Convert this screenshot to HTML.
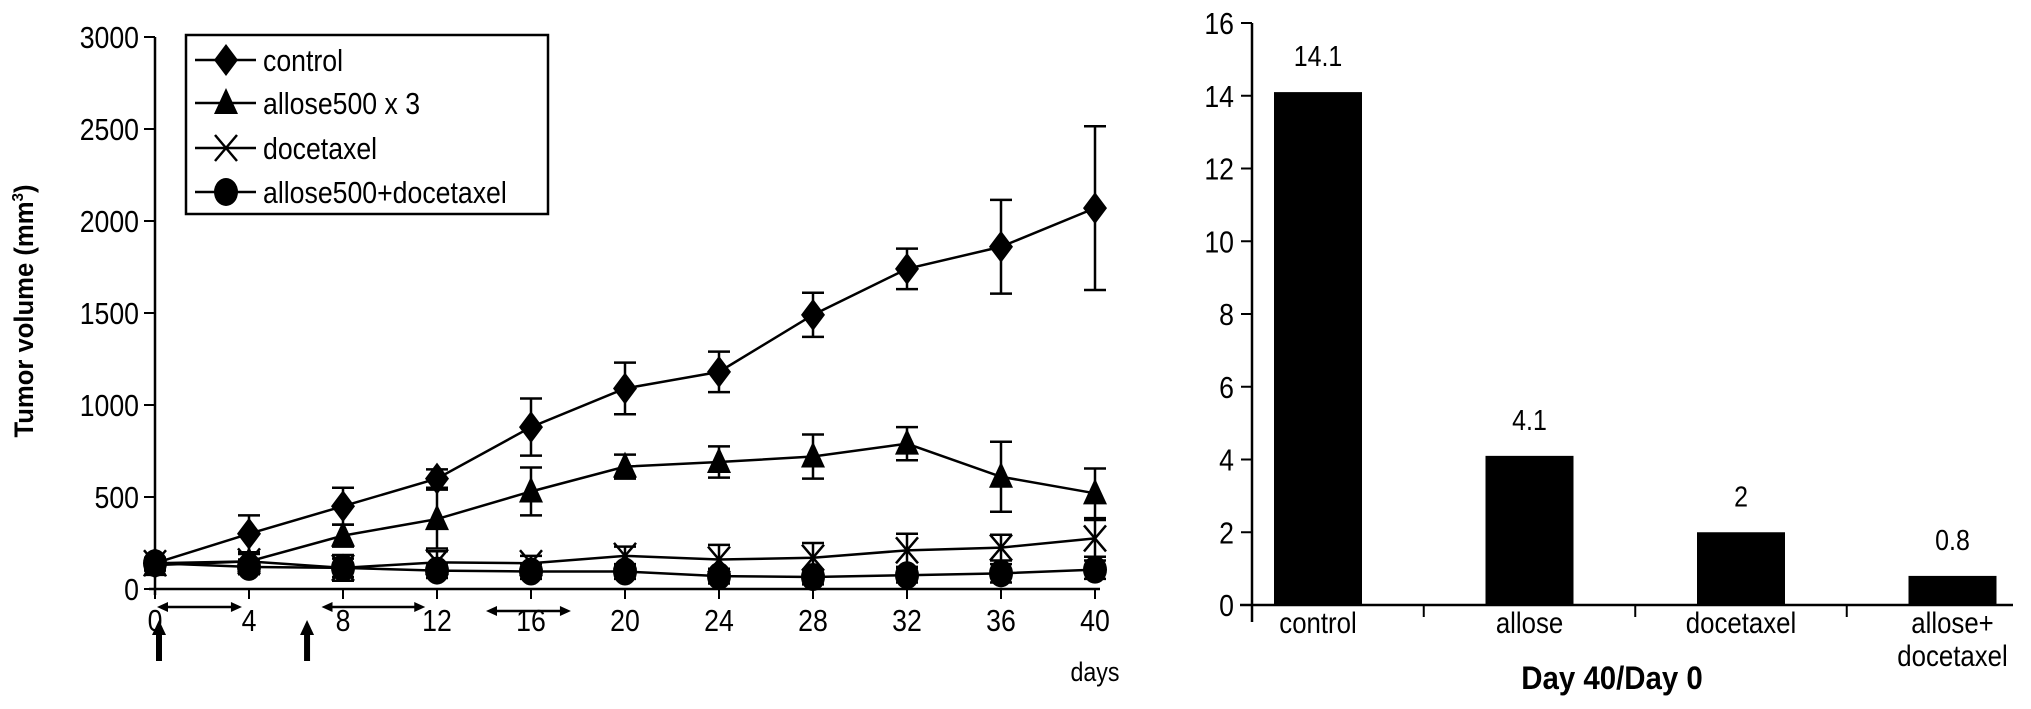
<!DOCTYPE html>
<html><head><meta charset="utf-8"><style>
html,body{margin:0;padding:0;background:#fff;}
svg{display:block;font-family:"Liberation Sans",Arial,sans-serif;}
</style></head><body>
<svg id="c" width="2031" height="709" viewBox="0 0 2031 709" xmlns="http://www.w3.org/2000/svg"></svg>
<script>
const days=[0,4,8,12,16,20,24,28,32,36,40];
const controlVals=[140,300,450,600,880,1090,1180,1490,1740,1860,2070];
const controlErr=[30,100,100,50,155,140,110,120,110,255,445];
const alloseVals=[130,150,290,380,530,665,690,720,790,610,520];
const alloseErr=[30,40,60,160,130,65,85,120,90,190,135];
const docVals=[140,150,115,145,140,180,160,170,210,225,275];
const docErr=[30,50,70,60,40,50,80,80,90,70,100];
const comboVals=[140,120,115,100,95,95,70,65,75,85,105];
const comboErr=[30,40,50,40,40,40,40,40,40,50,50];
const yTicksL=[0,500,1000,1500,2000,2500,3000];
const xTicksL=[0,4,8,12,16,20,24,28,32,36,40];
const barCats=["control","allose","docetaxel","allose+\ndocetaxel"];
const barVals=[14.1,4.1,2,0.8];
const barLabels=["14.1","4.1","2","0.8"];
const yTicksR=[0,2,4,6,8,10,12,14,16];
const treatSpans=[[0,3.7],[7,11.5],[14,17.7]];
const arrowDays=[0,6.3];

const NS="http://www.w3.org/2000/svg";
const svg=document.getElementById('c');
function mk(tag,attrs,parent){const e=document.createElementNS(NS,tag);for(const k in attrs)e.setAttribute(k,attrs[k]);(parent||svg).appendChild(e);return e;}
function txt(x,y,str,size,anchor,parent,bold,sx){
  const e=mk('text',{transform:`translate(${x},${y}) scale(${sx||0.86},1)`,'text-anchor':anchor||'start','font-size':size},parent);
  if(bold)e.setAttribute('font-weight','bold');
  e.textContent=str;return e;
}
const xL=d=>155+d*23.5;
const yL=v=>589-v*0.184;
const yR=v=>605-v*36.375;
const xR=i=>1318+i*211.5;

const gl=mk('g',{});


let a=mk('line',{x1:155,y1:yL(3000),x2:155,y2:595,stroke:'#000','stroke-width':2.5},gl);

a=mk('line',{x1:149,y1:589,x2:1100,y2:589,stroke:'#000','stroke-width':2.5},gl);

yTicksL.forEach(v=>{
  mk('line',{x1:144,y1:yL(v),x2:155,y2:yL(v),stroke:'#000','stroke-width':2},gl);
  const t=txt(139,yL(v)+11,String(v),31,'end',gl);
  
});
xTicksL.forEach(d=>{
  mk('line',{x1:xL(d),y1:589,x2:xL(d),y2:599,stroke:'#000','stroke-width':2},gl);
  const t=txt(xL(d),631,String(d),31,'middle',gl);
  
});
let t=txt(1095,681,'days',27,'middle',gl);

t=mk('text',{transform:'translate(33,311) rotate(-90) scale(0.95,1)','text-anchor':'middle','font-size':27,'font-weight':'bold'},gl);
t.innerHTML='Tumor volume (mm<tspan dy="-10" font-size="16">3</tspan><tspan dy="10">)</tspan>';


treatSpans.forEach((s,i)=>{
  const y=i==2?611:607;const x1=xL(s[0])+2,x2=xL(s[1]);
  const g=mk('g',{},gl);
  
  mk('line',{x1:x1+6,y1:y,x2:x2-6,y2:y,stroke:'#000','stroke-width':2.5},g);
  mk('polygon',{points:`${x1},${y} ${x1+11},${y-5} ${x1+11},${y+5}`,fill:'#000'},g);
  mk('polygon',{points:`${x2},${y} ${x2-11},${y-5} ${x2-11},${y+5}`,fill:'#000'},g);
});
arrowDays.forEach(d=>{
  const x=xL(d)+4;const g=mk('g',{},gl);
  
  mk('rect',{x:x-3,y:633,width:6,height:28,fill:'#000'},g);
  mk('polygon',{points:`${x},620 ${x-7},635 ${x+7},635`,fill:'#000'},g);
});

function marker(type,x,y,g){
  if(type=='diamond')return mk('polygon',{points:`${x},${y-16} ${x+12},${y} ${x},${y+16} ${x-12},${y}`,fill:'#000'},g);
  if(type=='triangle')return mk('polygon',{points:`${x},${y-15} ${x+12},${y+11} ${x-12},${y+11}`,fill:'#000'},g);
  if(type=='circle')return mk('ellipse',{cx:x,cy:y,rx:12,ry:14,fill:'#000'},g);
  return mk('path',{d:`M${x-11},${y-13}L${x+11},${y+13}M${x+11},${y-13}L${x-11},${y+13}`,stroke:'#000','stroke-width':2.5,fill:'none'},g);
}
const series=[
 {name:'control',vals:controlVals,err:controlErr,m:'diamond'},
 {name:'allose500 x 3',vals:alloseVals,err:alloseErr,m:'triangle'},
 {name:'docetaxel',vals:docVals,err:docErr,m:'x'},
 {name:'allose500+docetaxel',vals:comboVals,err:comboErr,m:'circle'}];
series.forEach((s,si)=>{
  const g=mk('g',{},gl);
  
  
  s.vals.forEach((v,i)=>{
    const x=xL(days[i]);
    mk('line',{x1:x,y1:yL(v+s.err[i]),x2:x,y2:yL(Math.max(0,v-s.err[i])),stroke:'#000','stroke-width':2.5},g);
    mk('line',{x1:x-11,y1:yL(v+s.err[i]),x2:x+11,y2:yL(v+s.err[i]),stroke:'#000','stroke-width':2.5},g);
    mk('line',{x1:x-11,y1:yL(Math.max(0,v-s.err[i])),x2:x+11,y2:yL(Math.max(0,v-s.err[i])),stroke:'#000','stroke-width':2.5},g);
  });
  const pl=mk('polyline',{points:s.vals.map((v,i)=>xL(days[i])+','+yL(v)).join(' '),fill:'none',stroke:'#000','stroke-width':2.5},g);
  
  s.vals.forEach((v,i)=>{const m=marker(s.m,xL(days[i]),yL(v),g);
    });
});

const lg=mk('g',{},gl);

mk('rect',{x:186,y:35,width:362,height:179,fill:'#fff',stroke:'#000','stroke-width':2.5},lg);
const rows=[60,103,148,192];
series.forEach((s,i)=>{
  const g=mk('g',{},lg);
  
  mk('line',{x1:195,y1:rows[i],x2:256,y2:rows[i],stroke:'#000','stroke-width':2.5},g);
  marker(s.m,226,rows[i],g);
  txt(263,rows[i]+11,s.name,31,'start',g);
});

const gr=mk('g',{});

a=mk('line',{x1:1252,y1:yR(16),x2:1252,y2:622,stroke:'#000','stroke-width':2.5},gr);

a=mk('line',{x1:1240,y1:605,x2:2013,y2:605,stroke:'#000','stroke-width':2.5},gr);

yTicksR.forEach(v=>{
  mk('line',{x1:1241,y1:yR(v),x2:1252,y2:yR(v),stroke:'#000','stroke-width':2},gr);
  const tt=txt(1234,yR(v)+11,String(v),31,'end',gr);
  
});
barCats.forEach((c,i)=>{
  if(i>0)mk('line',{x1:xR(i)-105.75,y1:605,x2:xR(i)-105.75,y2:617,stroke:'#000','stroke-width':2},gr);
  const b=mk('rect',{x:xR(i)-44,y:yR(barVals[i]),width:88,height:605-yR(barVals[i]),fill:'#000'},gr);
  
  const vl=txt(xR(i),yR(barVals[i])-26,barLabels[i],29,'middle',gr);
  
  c.split('\n').forEach((ln,j)=>{const ct=txt(xR(i),633+j*33,ln,30,'middle',gr);
    });
});
t=txt(1612,689,'Day 40/Day 0',32,'middle',gr,true,0.92);

</script>
</body></html>
